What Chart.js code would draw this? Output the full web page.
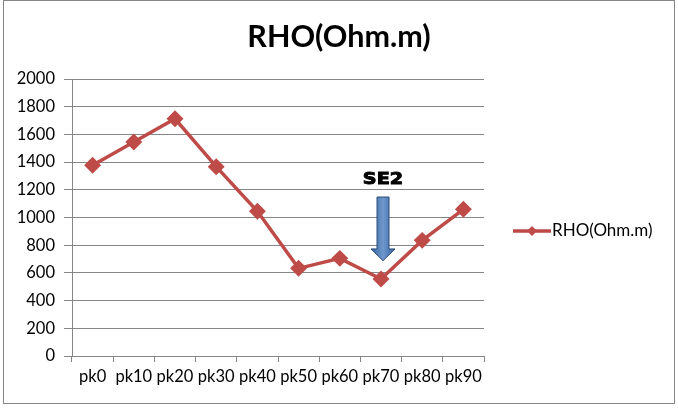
<!DOCTYPE html>
<html><head><meta charset="utf-8">
<script src="https://cdn.jsdelivr.net/npm/chart.js@4"></script>
<style>html,body{margin:0;padding:0;background:#fff}canvas{display:block}</style>
</head><body>
<canvas id="c" width="678" height="408"></canvas>
<script>
const categories = ['pk0','pk10','pk20','pk30','pk40','pk50','pk60','pk70','pk80','pk90'];
const rhoValues = [1377, 1545, 1713, 1367, 1045, 633, 705, 556, 835, 1059];
const yTicks = [0,200,400,600,800,1000,1200,1400,1600,1800,2000];
const seriesName = 'RHO(Ohm.m)';
const titleText = 'RHO(Ohm.m)';
const annotationText = 'SE2';

const lineColor = '#be4b48';
const gridColor = '#868686';

const decor = {
  id: 'decor',
  afterDraw(chart) {
    const ctx = chart.ctx;
    const xs = chart.scales.x, ys = chart.scales.y;
    ctx.save();
    // border
    ctx.strokeStyle = gridColor; ctx.lineWidth = 1;
    ctx.strokeRect(3.5, 0.5, 671, 403);
    // title
    ctx.fillStyle = '#000';
    ctx.font = 'bold 30.5px Lato';
    ctx.textAlign = 'center'; ctx.textBaseline = 'alphabetic';
    ctx.fillText(titleText, 339, 47);
    // legend
    const ly = 231;
    ctx.strokeStyle = lineColor; ctx.lineWidth = 3.5;
    ctx.beginPath(); ctx.moveTo(513, ly); ctx.lineTo(551, ly); ctx.stroke();
    ctx.fillStyle = lineColor;
    ctx.beginPath(); ctx.moveTo(532, ly-5); ctx.lineTo(537, ly); ctx.lineTo(532, ly+5); ctx.lineTo(527, ly); ctx.closePath(); ctx.fill();
    ctx.fillStyle = '#000';
    ctx.font = '17px Lato';
    ctx.textAlign = 'left'; ctx.textBaseline = 'middle';
    ctx.fillText(seriesName, 552, ly);
    // annotation arrow at pk70
    const cx = xs.getPixelForValue(7) + 2;
    const yTop = ys.getPixelForValue(1148);
    const yHead = ys.getPixelForValue(773);
    const yTip = ys.getPixelForValue(688);
    const sw = 6, hw = 12;
    const g = ctx.createLinearGradient(cx - hw, 0, cx + hw, 0);
    g.addColorStop(0, '#35649e'); g.addColorStop(0.5, '#6f98cc'); g.addColorStop(1, '#35649e');
    ctx.beginPath();
    ctx.moveTo(cx - sw, yTop); ctx.lineTo(cx + sw, yTop); ctx.lineTo(cx + sw, yHead);
    ctx.lineTo(cx + hw, yHead); ctx.lineTo(cx, yTip); ctx.lineTo(cx - hw, yHead);
    ctx.lineTo(cx - sw, yHead); ctx.closePath();
    ctx.fillStyle = g; ctx.fill();
    ctx.strokeStyle = '#2a4c7c'; ctx.lineWidth = 1; ctx.stroke();
    // SE2 text
    ctx.save();
    ctx.translate(cx, 180);
    ctx.scale(1.2, 1);
    ctx.fillStyle = '#000';
    ctx.strokeStyle = '#000';
    ctx.lineWidth = 0.9;
    ctx.font = 'bold 16px "DejaVu Sans"';
    ctx.textAlign = 'center'; ctx.textBaseline = 'middle';
    ctx.fillText(annotationText, 0, 0);
    ctx.strokeText(annotationText, 0, 0);
    ctx.restore();
    ctx.restore();
  }
};

new Chart(document.getElementById('c'), {
  type: 'line',
  data: {
    labels: categories,
    datasets: [{
      label: seriesName,
      data: rhoValues,
      borderColor: lineColor,
      backgroundColor: lineColor,
      borderWidth: 3.5,
      pointStyle: 'rectRot',
      pointRadius: 6,
      pointHoverRadius: 6,
      tension: 0,
      clip: false
    }]
  },
  options: {
    responsive: false,
    animation: false,
    devicePixelRatio: 1,
    layout: { padding: { top: 79, right: 194, left: 0, bottom: 0 } },
    plugins: { legend: { display: false }, title: { display: false }, tooltip: { enabled: false } },
    scales: {
      x: {
        offset: true,
        grid: { offset: true, drawOnChartArea: false, color: gridColor, tickLength: 6, tickColor: gridColor },
        border: { color: gridColor },
        ticks: { color: '#000', font: { family: 'Lato', size: 16.5 }, padding: 5, maxRotation: 0, autoSkip: false },
        afterFit(s) { s.height = 52; }
      },
      y: {
        min: 0, max: 2000,
        afterBuildTicks(s) { s.ticks = yTicks.map(v => ({ value: v })); },
        grid: { color: gridColor, tickLength: 8, tickColor: gridColor },
        border: { color: gridColor },
        ticks: { color: '#000', font: { family: 'Lato', size: 16.5 }, padding: 9, callback: v => String(v) },
        afterFit(s) { s.width = 72; }
      }
    }
  },
  plugins: [decor]
});
</script>
</body></html>
